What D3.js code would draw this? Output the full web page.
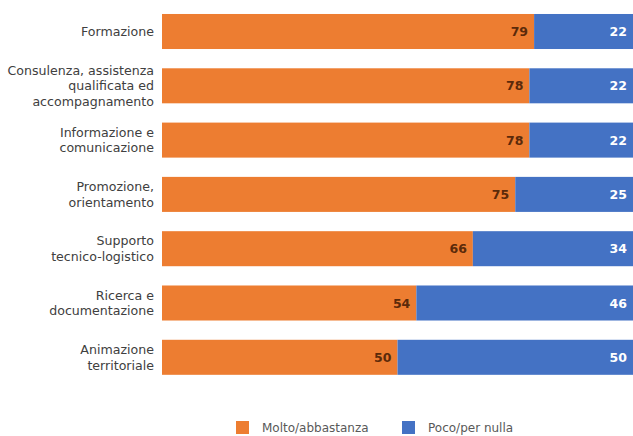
<!DOCTYPE html>
<html><head><meta charset="utf-8">
<script src="https://cdn.jsdelivr.net/npm/d3@7"></script>
<style>body{margin:0;background:#fff}svg{display:block}</style>
</head><body>
<script>
const categories = [
  ["Formazione"],
  ["Consulenza, assistenza","qualificata ed","accompagnamento"],
  ["Informazione e","comunicazione"],
  ["Promozione,","orientamento"],
  ["Supporto","tecnico-logistico"],
  ["Ricerca e","documentazione"],
  ["Animazione","territoriale"]
];
const molto = [79,78,78,75,66,54,50];
const poco = [22,22,22,25,34,46,50];
const seriesNames = ["Molto/abbastanza","Poco/per nulla"];
const colors = ["#ED7D31","#4472C4"];

const W=633,H=436;
const svg=d3.select("body").append("svg").attr("width",W).attr("height",H);
const x=d3.scaleLinear().domain([0,100]).range([162,633]);
const y=d3.scaleBand().domain(d3.range(categories.length)).range([4.35,384.45]).paddingInner(0.355).paddingOuter(0.1775);
const font="'DejaVu Sans', sans-serif";

const g=svg.append("g");
categories.forEach((c,i)=>{
  const y0=y(i), h=y.bandwidth();
  g.append("rect").attr("x",x(0)).attr("y",y0).attr("width",x(molto[i])-x(0)).attr("height",h).attr("fill",colors[0]);
  g.append("rect").attr("x",x(molto[i])).attr("y",y0).attr("width",x(molto[i]+poco[i])-x(molto[i])).attr("height",h).attr("fill",colors[1]);
  g.append("text").attr("x",x(molto[i])-6).attr("y",y0+h/2).attr("dy","0.36em").attr("text-anchor","end")
    .attr("font-family",font).attr("font-size",12.5).attr("font-weight","bold").attr("fill","#5b2a0a").text(molto[i]);
  g.append("text").attr("x",627).attr("y",y0+h/2).attr("dy","0.36em").attr("text-anchor","end")
    .attr("font-family",font).attr("font-size",12.5).attr("font-weight","bold").attr("fill","#fff").text(poco[i]);
  const t=g.append("text").attr("text-anchor","end").attr("font-family",font).attr("font-size",12.6).attr("fill","#404040");
  const lh=15.5, n=c.length;
  c.forEach((line,k)=>{
    t.append("tspan").attr("x",154).attr("y",y0+h/2+(k-(n-1)/2)*lh).attr("dy","0.36em").text(line);
  });
});

const leg=svg.append("g");
const lx=[236,402];
seriesNames.forEach((s,i)=>{
  leg.append("rect").attr("x",lx[i]).attr("y",421).attr("width",13).attr("height",13).attr("fill",colors[i]);
  leg.append("text").attr("x",lx[i]+26).attr("y",428).attr("dy","0.36em").attr("font-family",font).attr("font-size",12).attr("fill","#595959").text(s);
});
</script>
</body></html>
